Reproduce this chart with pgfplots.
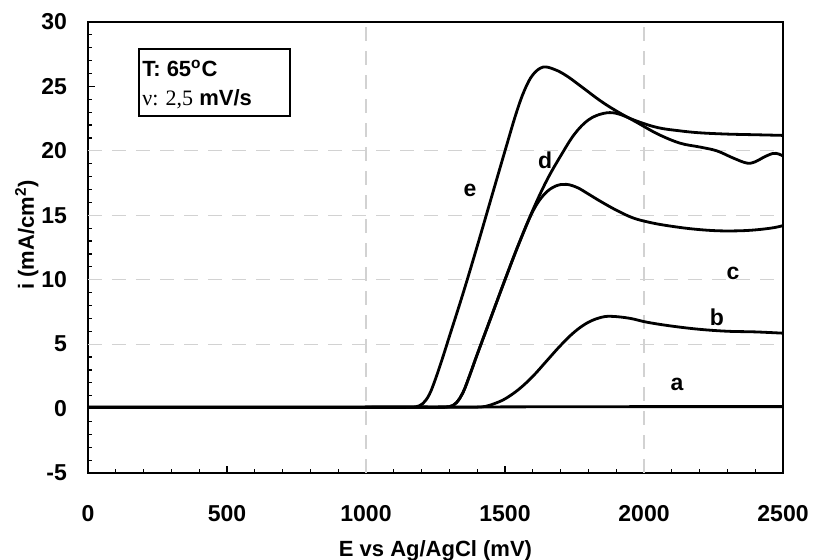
\documentclass[border=0pt]{standalone}
\usepackage{fontspec}
\setmainfont{Liberation Sans}
\newfontfamily\serifnu{Liberation Serif}
\usepackage{pgfplots}
\pgfplotsset{compat=1.18}

\pgfplotstableread{
E i
0 0.10
500 0.10
1000 0.11
1500 0.13
2000 0.15
2500 0.15
}\curveA

\pgfplotstableread{
E i
0 0.08
500 0.08
1000 0.09
1300 0.10
1360 0.10
1400 0.11
1430 0.17
1460 0.37
1500 0.75
1550 1.5
1600 2.5
1650 3.7
1700 4.9
1750 5.95
1800 6.7
1850 7.1
1890 7.15
1950 7.0
2011 6.7
2100 6.4
2200 6.15
2300 6.0
2400 5.95
2500 5.85
}\curveB

\pgfplotstableread{
E i
0 0.10
500 0.10
1000 0.10
1200 0.11
1260 0.11
1300 0.15
1325 0.45
1350 1.3
1375 2.7
1400 4.2
1450 7.1
1500 10.0
1550 12.8
1600 15.3
1640 16.6
1680 17.25
1720 17.4
1760 17.15
1800 16.65
1842 16.1
1900 15.4
1960 14.8
2020 14.45
2083 14.2
2170 13.95
2262 13.8
2350 13.8
2417 13.9
2470 14.05
2500 14.2
}\curveC

\pgfplotstableread{
E i
0 0.10
500 0.10
1000 0.10
1200 0.11
1260 0.11
1300 0.15
1325 0.45
1350 1.3
1375 2.7
1400 4.2
1450 7.1
1500 10.0
1550 12.8
1600 15.4
1650 17.7
1700 19.6
1750 21.3
1800 22.4
1853 22.9
1903 22.9
1975 22.3
2050 21.8
2130 21.55
2201 21.4
2300 21.3
2400 21.25
2500 21.2
}\curveD

\pgfplotstableread{
E i
0 0.10
500 0.10
1000 0.11
1100 0.11
1150 0.12
1180 0.14
1205 0.4
1228 1.1
1250 2.3
1275 3.9
1300 5.6
1350 9.0
1400 12.6
1450 16.3
1500 20.0
1540 22.9
1570 24.7
1600 25.9
1637 26.5
1680 26.3
1723 25.8
1780 24.9
1842 23.9
1900 23.1
1975 22.2
2050 21.3
2129 20.6
2200 20.3
2262 20.0
2320 19.45
2370 19.05
2400 19.15
2430 19.5
2464 19.8
2485 19.75
2500 19.6
}\curveE

\begin{document}
\begin{tikzpicture}
\begin{axis}[
    scale only axis,
    width=347.5pt, height=225.5pt,
    xmin=0, xmax=2500, ymin=-5, ymax=30,
    xtick={0,500,...,2500},
    ytick={-5,0,...,30},
    minor x tick num=4,
    minor y tick num=4,
    tick pos=left,
    tick align=inside,
    major tick length=3.5pt,
    minor tick length=2.2pt,
    every tick/.style={black, line width=0.6pt},
    axis line style={black, line width=0.9pt},
    ticklabel style={font=\fontsize{11.5}{13}\selectfont\bfseries},
    /pgf/number format/assume math mode=true,
    /pgf/number format/1000 sep={},
    yticklabel style={xshift=-7pt},
    xticklabel style={yshift=-12.5pt},
    xlabel={E vs Ag/AgCl (mV)},
    ylabel={i (mA/cm$^{\mathbf{2}}$)},
    xlabel style={font=\fontsize{11}{13}\selectfont\bfseries,
      at={(axis description cs:0.5,0)}, anchor=north, yshift=-30pt},
    ylabel style={font=\fontsize{11}{13}\selectfont\bfseries,
      at={(axis description cs:-0.088,0.528)}, anchor=center},
    clip=true,
]
  % faint dashed grid
  \draw[gray!35, line width=0.6pt, dash pattern=on 7pt off 5pt]
    (axis cs:1000,-5) -- (axis cs:1000,30)
    (axis cs:2000,-5) -- (axis cs:2000,30)
    (axis cs:0,5) -- (axis cs:2500,5)
    (axis cs:0,10) -- (axis cs:2500,10)
    (axis cs:0,15) -- (axis cs:2500,15)
    (axis cs:0,20) -- (axis cs:2500,20);

  \addplot[black, line width=1.4pt, smooth, tension=0.6, no markers] table[x=E, y=i] {\curveA};
  \addplot[black, line width=1.4pt, smooth, tension=0.6, no markers] table[x=E, y=i] {\curveB};
  \addplot[black, line width=1.4pt, smooth, tension=0.6, no markers] table[x=E, y=i] {\curveC};
  \addplot[black, line width=1.4pt, smooth, tension=0.6, no markers] table[x=E, y=i] {\curveD};
  \addplot[black, line width=1.4pt, smooth, tension=0.6, no markers] table[x=E, y=i] {\curveE};

  \begin{scope}[font=\fontsize{11.5}{13}\selectfont\bfseries]
    \node at (axis cs:2119,1.9) {a};
    \node at (axis cs:2262,7.1) {b};
    \node at (axis cs:2320,10.5) {c};
    \node at (axis cs:1644,19.3) {d};
    \node at (axis cs:1374,16.9) {e};
  \end{scope}

  % condition box
  \draw[black, line width=0.8pt] (axis cs:183,27.9) rectangle (axis cs:727,22.7);
  \node[anchor=west, inner sep=0pt, font=\fontsize{11}{13}\selectfont\bfseries]
    at (axis cs:194,26.4) {T: 65\textsuperscript{o}C};
  \node[anchor=west, inner sep=0pt, font=\fontsize{11}{13}\selectfont]
    at (axis cs:194,24.0) {{\serifnu ν: 2,5} \textbf{mV/s}};

  \coordinate (sw) at (rel axis cs:0,0);
  \coordinate (ne) at (rel axis cs:1,1);
\end{axis}
\pgfresetboundingbox
\path ([xshift=-44pt,yshift=-43.5pt]sw) rectangle ([xshift=15pt,yshift=11pt]ne);
\end{tikzpicture}
\end{document}
